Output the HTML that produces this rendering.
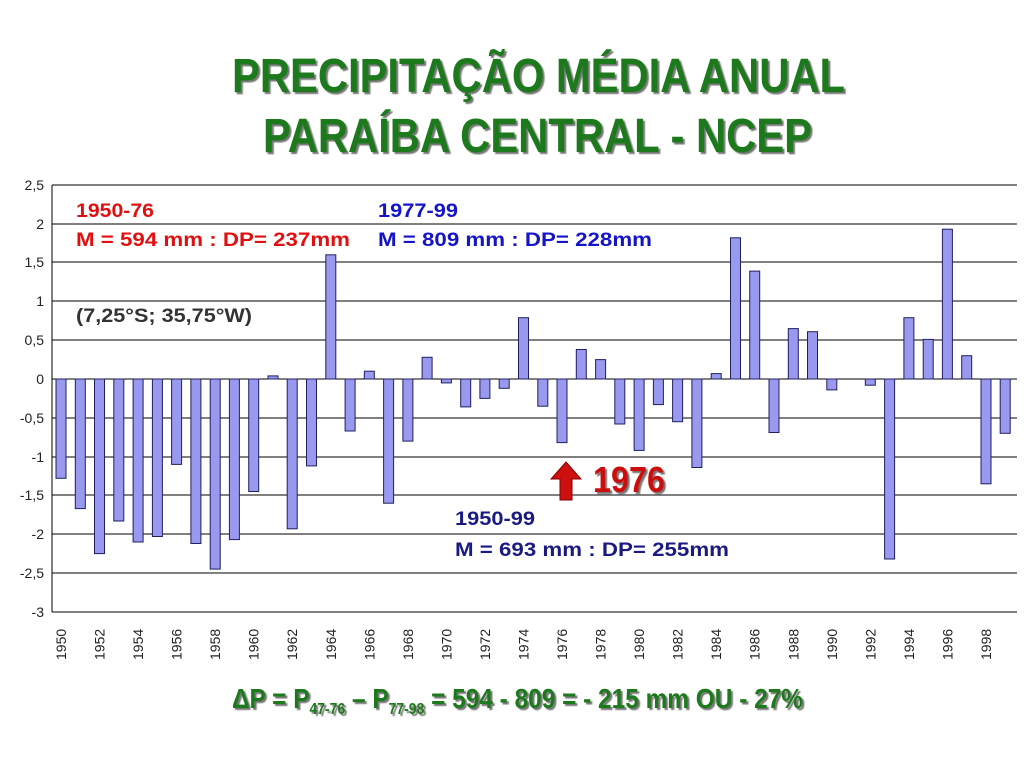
<!DOCTYPE html>
<html><head><meta charset="utf-8"><style>
html,body{margin:0;padding:0;background:#fff;width:1024px;height:768px;overflow:hidden}
svg{display:block}
</style></head><body>
<svg width="1024" height="768" xmlns="http://www.w3.org/2000/svg" font-family="Liberation Sans, Arial, sans-serif">
<defs><filter id="sh"><feDropShadow dx="2" dy="2" stdDeviation="0.6" flood-color="#555" flood-opacity="0.8"/></filter></defs>
<g font-weight="bold" fill="#1a7a1a" filter="url(#sh)">
<text x="232" y="92" font-size="48" textLength="613" lengthAdjust="spacingAndGlyphs">PRECIPITAÇÃO MÉDIA ANUAL</text>
<text x="263" y="152" font-size="48" textLength="549" lengthAdjust="spacingAndGlyphs">PARAÍBA CENTRAL - NCEP</text>
</g>
<g stroke="#000" stroke-width="1">
<line x1="52" y1="185" x2="1017" y2="185"/><line x1="52" y1="224" x2="1017" y2="224"/>
<line x1="52" y1="262" x2="1017" y2="262"/><line x1="52" y1="301" x2="1017" y2="301"/>
<line x1="52" y1="340" x2="1017" y2="340"/><line x1="52" y1="379" x2="1017" y2="379"/>
<line x1="52" y1="418" x2="1017" y2="418"/><line x1="52" y1="457" x2="1017" y2="457"/>
<line x1="52" y1="495" x2="1017" y2="495"/><line x1="52" y1="534" x2="1017" y2="534"/>
<line x1="52" y1="573" x2="1017" y2="573"/><line x1="52" y1="612" x2="1017" y2="612"/>
<line x1="52" y1="185" x2="52" y2="612"/>
</g>
<g font-size="14" fill="#222" text-anchor="end">
<text x="44" y="190">2,5</text><text x="44" y="229">2</text><text x="44" y="267">1,5</text>
<text x="44" y="306">1</text><text x="44" y="345">0,5</text><text x="44" y="384">0</text>
<text x="44" y="423">-0,5</text><text x="44" y="462">-1</text><text x="44" y="500">-1,5</text>
<text x="44" y="539">-2</text><text x="44" y="578">-2,5</text><text x="44" y="617">-3</text>
</g>
<g fill="#9999f0" stroke="#202060" stroke-width="1">
<rect x="56" y="379" width="10" height="99.3"/>
<rect x="75.3" y="379" width="10" height="129.6"/>
<rect x="94.5" y="379" width="10" height="174.6"/>
<rect x="113.8" y="379" width="10" height="142"/>
<rect x="133.1" y="379" width="10" height="163"/>
<rect x="152.4" y="379" width="10" height="157.5"/>
<rect x="171.6" y="379" width="10" height="85.4"/>
<rect x="190.9" y="379" width="10" height="164.5"/>
<rect x="210.2" y="379" width="10" height="190.1"/>
<rect x="229.4" y="379" width="10" height="160.6"/>
<rect x="248.7" y="379" width="10" height="112.5"/>
<rect x="268" y="375.9" width="10" height="3.1"/>
<rect x="287.2" y="379" width="10" height="149.8"/>
<rect x="306.5" y="379" width="10" height="86.9"/>
<rect x="325.8" y="254.8" width="10" height="124.2"/>
<rect x="345.1" y="379" width="10" height="52"/>
<rect x="364.3" y="371.2" width="10" height="7.8"/>
<rect x="383.6" y="379" width="10" height="124.2"/>
<rect x="402.9" y="379" width="10" height="62.1"/>
<rect x="422.1" y="357.3" width="10" height="21.7"/>
<rect x="441.4" y="379" width="10" height="3.9"/>
<rect x="460.7" y="379" width="10" height="27.9"/>
<rect x="479.9" y="379" width="10" height="19.4"/>
<rect x="499.2" y="379" width="10" height="9.3"/>
<rect x="518.5" y="317.7" width="10" height="61.3"/>
<rect x="537.8" y="379" width="10" height="27.2"/>
<rect x="557" y="379" width="10" height="63.6"/>
<rect x="576.3" y="349.5" width="10" height="29.5"/>
<rect x="595.6" y="359.6" width="10" height="19.4"/>
<rect x="614.8" y="379" width="10" height="45"/>
<rect x="634.1" y="379" width="10" height="71.4"/>
<rect x="653.4" y="379" width="10" height="25.6"/>
<rect x="672.6" y="379" width="10" height="42.7"/>
<rect x="691.9" y="379" width="10" height="88.5"/>
<rect x="711.2" y="373.6" width="10" height="5.4"/>
<rect x="730.5" y="237.8" width="10" height="141.2"/>
<rect x="749.7" y="271.1" width="10" height="107.9"/>
<rect x="769" y="379" width="10" height="53.5"/>
<rect x="788.3" y="328.6" width="10" height="50.4"/>
<rect x="807.5" y="331.7" width="10" height="47.3"/>
<rect x="826.8" y="379" width="10" height="10.9"/>
<rect x="865.3" y="379" width="10" height="6.2"/>
<rect x="884.6" y="379" width="10" height="180"/>
<rect x="903.9" y="317.7" width="10" height="61.3"/>
<rect x="923.2" y="339.4" width="10" height="39.6"/>
<rect x="942.4" y="229.2" width="10" height="149.8"/>
<rect x="961.7" y="355.7" width="10" height="23.3"/>
<rect x="981" y="379" width="10" height="104.8"/>
<rect x="1000.2" y="379" width="10" height="54.3"/>
</g>
<g font-size="14" fill="#222">
<text transform="translate(66,660) rotate(-90)">1950</text>
<text transform="translate(104.5,660) rotate(-90)">1952</text>
<text transform="translate(143.1,660) rotate(-90)">1954</text>
<text transform="translate(181.6,660) rotate(-90)">1956</text>
<text transform="translate(220.2,660) rotate(-90)">1958</text>
<text transform="translate(258.7,660) rotate(-90)">1960</text>
<text transform="translate(297.2,660) rotate(-90)">1962</text>
<text transform="translate(335.8,660) rotate(-90)">1964</text>
<text transform="translate(374.3,660) rotate(-90)">1966</text>
<text transform="translate(412.9,660) rotate(-90)">1968</text>
<text transform="translate(451.4,660) rotate(-90)">1970</text>
<text transform="translate(489.9,660) rotate(-90)">1972</text>
<text transform="translate(528.5,660) rotate(-90)">1974</text>
<text transform="translate(567,660) rotate(-90)">1976</text>
<text transform="translate(605.6,660) rotate(-90)">1978</text>
<text transform="translate(644.1,660) rotate(-90)">1980</text>
<text transform="translate(682.6,660) rotate(-90)">1982</text>
<text transform="translate(721.2,660) rotate(-90)">1984</text>
<text transform="translate(759.7,660) rotate(-90)">1986</text>
<text transform="translate(798.3,660) rotate(-90)">1988</text>
<text transform="translate(836.8,660) rotate(-90)">1990</text>
<text transform="translate(875.3,660) rotate(-90)">1992</text>
<text transform="translate(913.9,660) rotate(-90)">1994</text>
<text transform="translate(952.4,660) rotate(-90)">1996</text>
<text transform="translate(991,660) rotate(-90)">1998</text>
</g>
<g font-weight="bold" font-size="19">
<text x="76" y="217" fill="#e01010" textLength="78" lengthAdjust="spacingAndGlyphs">1950-76</text>
<text x="76" y="246" fill="#e01010" textLength="274" lengthAdjust="spacingAndGlyphs">M = 594 mm : DP= 237mm</text>
<text x="76" y="322" fill="#333" textLength="176" lengthAdjust="spacingAndGlyphs">(7,25°S; 35,75°W)</text>
<text x="378" y="217" fill="#1414c8" textLength="80" lengthAdjust="spacingAndGlyphs">1977-99</text>
<text x="378" y="246" fill="#1414c8" textLength="274" lengthAdjust="spacingAndGlyphs">M = 809 mm : DP= 228mm</text>
<text x="455" y="525" fill="#1a1a80" textLength="80" lengthAdjust="spacingAndGlyphs">1950-99</text>
<text x="455" y="556" fill="#1a1a80" textLength="274" lengthAdjust="spacingAndGlyphs">M = 693 mm : DP= 255mm</text>
</g>
<polygon points="566,462 581,479 572,479 572,500 560,500 560,479 551,479" fill="#cc1010" stroke="#800" stroke-width="1"/>
<text x="593" y="492" font-size="36" font-weight="bold" fill="#cc1010" filter="url(#sh)" textLength="72" lengthAdjust="spacingAndGlyphs">1976</text>
<text x="232" y="708" font-size="28" font-weight="bold" fill="#1a7a1a" filter="url(#sh)" textLength="571" lengthAdjust="spacingAndGlyphs">ΔP = P<tspan font-size="16" dy="6">47-76</tspan><tspan dy="-6"> –  P</tspan><tspan font-size="16" dy="6">77-98</tspan><tspan dy="-6"> = 594 - 809 = - 215 mm OU  - 27%</tspan></text>
</svg>
</body></html>
